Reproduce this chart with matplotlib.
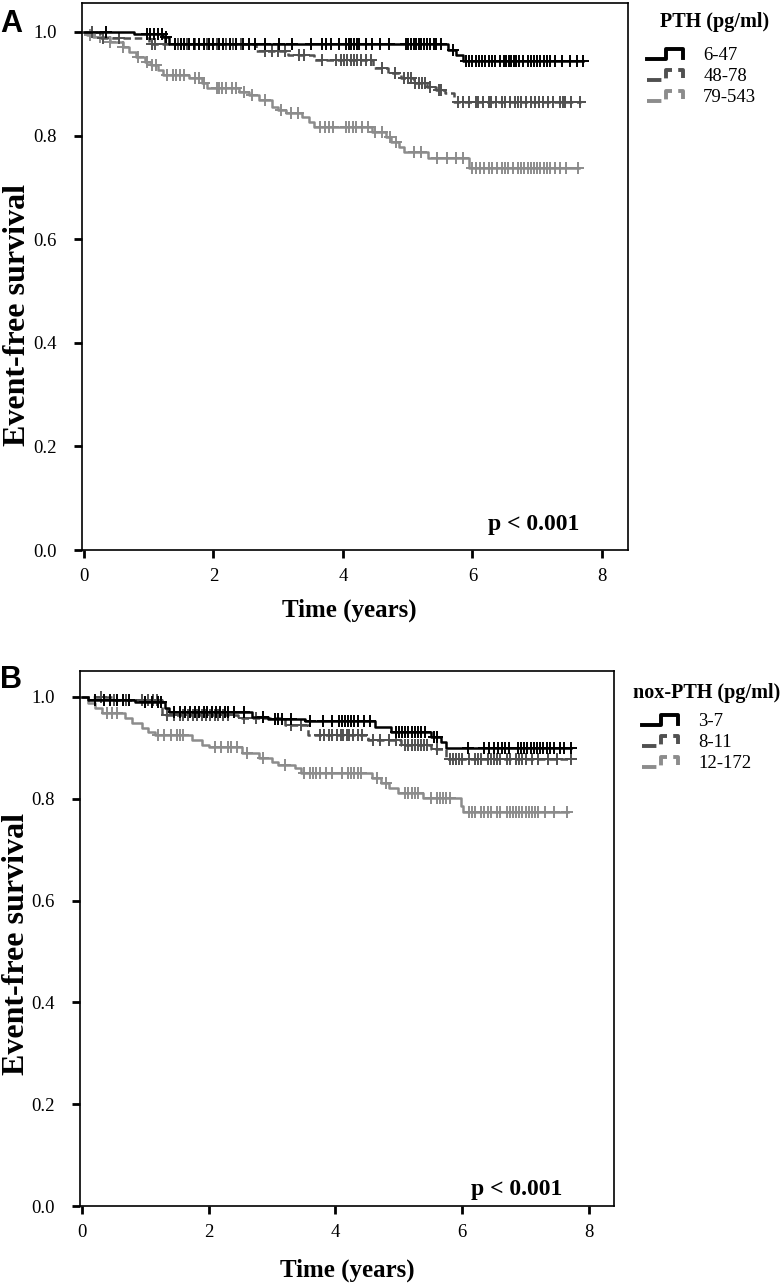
import matplotlib
matplotlib.use('Agg')
import matplotlib.pyplot as plt
import numpy as np
from matplotlib.legend_handler import HandlerBase
from matplotlib.lines import Line2D

# ---------------------------------------------------------------------------
# Data
# ---------------------------------------------------------------------------

# Panel A: PTH tertiles
pth_labels = ['6-47', '48-78', '79-543']

pth_low_t = [0, 0.78, 1.22, 1.32, 5.63, 5.75, 5.86]
pth_low_s = [1.0, 0.996, 0.99, 0.977, 0.965, 0.955, 0.944]
pth_low_end = 7.7
pth_low_cens = [0.34, 0.97, 1.02, 1.08, 1.14, 1.2, 1.27, 1.4, 1.5, 1.55, 1.62, 1.7, 1.78,
                1.85, 1.93, 2.0, 2.08, 2.15, 2.25, 2.35, 2.45, 2.55, 2.65, 2.8, 3.02, 3.22,
                3.51, 3.68, 3.74, 3.82, 3.94, 4.05, 4.09, 4.13, 4.17, 4.21, 4.25, 4.35,
                4.45, 4.58, 4.71, 4.97, 5.01, 5.05, 5.09, 5.13, 5.17, 5.21, 5.25, 5.3,
                5.35, 5.4, 5.43, 5.51, 5.7, 5.9, 5.95, 6.0, 6.05, 6.1, 6.15, 6.2, 6.25,
                6.3, 6.35, 6.42, 6.48, 6.52, 6.56, 6.6, 6.64, 6.68, 6.72, 6.78, 6.85,
                6.9, 6.95, 7.0, 7.05, 7.1, 7.15, 7.2, 7.28, 7.38, 7.5, 7.62, 7.7]

pth_mid_t = [0, 0.25, 1.0, 2.66, 3.15, 3.55, 4.47, 4.7, 4.9, 5.09, 5.3, 5.43, 5.58, 5.71]
pth_mid_s = [1.0, 0.988, 0.977, 0.963, 0.955, 0.945, 0.93, 0.92, 0.911, 0.901, 0.894,
             0.888, 0.882, 0.865]
pth_mid_end = 7.68
pth_mid_cens = [0.12, 0.3, 0.55, 1.05, 1.1, 1.25, 1.45, 1.6, 1.72, 1.9, 2.05, 2.2, 2.3,
                2.42, 2.55, 2.8, 2.9, 3.0, 3.1, 3.32, 3.4, 3.68, 3.89, 3.97, 4.02, 4.07,
                4.12, 4.17, 4.22, 4.28, 4.35, 4.43, 4.6, 4.8, 4.95, 5.0, 5.05, 5.12,
                5.17, 5.22, 5.27, 5.35, 5.48, 5.52, 5.78, 5.86, 5.94, 6.05, 6.09, 6.17,
                6.25, 6.29, 6.37, 6.45, 6.51, 6.58, 6.66, 6.71, 6.75, 6.82, 6.91, 6.97,
                7.02, 7.09, 7.17, 7.25, 7.35, 7.4, 7.43, 7.52, 7.66]

pth_high_t = [0, 0.05, 0.14, 0.4, 0.6, 0.7, 0.81, 0.94, 1.04, 1.14, 1.22, 1.63, 1.83,
              1.9, 2.4, 2.55, 2.7, 2.9, 3.0, 3.12, 3.37, 3.48, 3.55, 4.45, 4.66, 4.75,
              4.86, 4.94, 5.32, 5.94]
pth_high_s = [1.0, 0.995, 0.99, 0.981, 0.971, 0.961, 0.952, 0.942, 0.936, 0.927, 0.917,
              0.911, 0.902, 0.892, 0.884, 0.878, 0.869, 0.855, 0.849, 0.843, 0.836,
              0.826, 0.817, 0.807, 0.797, 0.788, 0.778, 0.768, 0.757, 0.737]
pth_high_end = 7.65
pth_high_cens = [0.1, 0.25, 0.4, 0.6, 0.83, 0.97, 1.05, 1.12, 1.29, 1.37, 1.43, 1.48,
                 1.55, 1.71, 1.78, 1.86, 2.05, 2.09, 2.14, 2.2, 2.28, 2.35, 2.48, 2.6,
                 2.8, 3.05, 3.2, 3.3, 3.65, 3.72, 3.78, 3.85, 4.05, 4.1, 4.15, 4.2, 4.3,
                 4.38, 4.5, 4.6, 4.72, 4.82, 5.1, 5.2, 5.45, 5.6, 5.75, 5.85, 6.0, 6.05,
                 6.12, 6.18, 6.25, 6.3, 6.38, 6.45, 6.5, 6.55, 6.62, 6.7, 6.75, 6.8,
                 6.85, 6.9, 6.95, 7.0, 7.05, 7.1, 7.15, 7.2, 7.27, 7.35, 7.45, 7.63]

# Panel B: nox-PTH tertiles
nox_labels = ['3-7', '8-11', '12-172']

nox_low_t = [0, 0.1, 0.83, 1.31, 1.37, 2.68, 2.94, 3.52, 4.62, 4.88, 5.5, 5.67, 5.75]
nox_low_s = [1.0, 0.995, 0.99, 0.978, 0.971, 0.961, 0.957, 0.952, 0.941, 0.932, 0.922,
             0.912, 0.9]
nox_low_end = 7.72
nox_low_cens = [0.2, 0.35, 0.45, 0.55, 0.65, 0.75, 1.0, 1.1, 1.2, 1.25, 1.45, 1.55, 1.62,
                1.7, 1.78, 1.85, 1.92, 1.98, 2.05, 2.12, 2.18, 2.25, 2.3, 2.4, 2.55, 2.85,
                3.05, 3.1, 3.15, 3.3, 3.6, 3.8, 3.95, 4.05, 4.1, 4.15, 4.2, 4.25, 4.3,
                4.35, 4.45, 4.55, 4.95, 5.0, 5.05, 5.1, 5.15, 5.2, 5.25, 5.3, 5.35, 5.42,
                5.55, 5.6, 6.09, 6.35, 6.42, 6.5, 6.57, 6.62, 6.68, 6.74, 6.88, 6.93, 6.98,
                7.03, 7.08, 7.13, 7.18, 7.23, 7.28, 7.33, 7.38, 7.45, 7.54, 7.6, 7.72]

nox_mid_t = [0, 0.5, 1.26, 2.46, 3.2, 3.57, 4.52, 5.04, 5.5, 5.75]
nox_mid_s = [1.0, 0.995, 0.965, 0.959, 0.945, 0.926, 0.916, 0.906, 0.897, 0.878]
nox_mid_end = 7.72
nox_mid_cens = [0.3, 0.5, 0.7, 0.95, 1.05, 1.12, 1.18, 1.35, 1.45, 1.55, 1.6, 1.68, 1.75,
                1.82, 1.9, 1.95, 2.02, 2.1, 2.15, 2.22, 2.3, 2.55, 2.75, 3.3, 3.45, 3.75,
                3.82, 3.9, 3.95, 4.02, 4.08, 4.12, 4.18, 4.22, 4.28, 4.35, 4.42, 4.6,
                4.7, 4.85, 4.95, 5.1, 5.15, 5.2, 5.25, 5.3, 5.35, 5.4, 5.45, 5.6, 5.8,
                5.85, 5.9, 5.95, 6.0, 6.1, 6.2, 6.25, 6.3, 6.4, 6.45, 6.5, 6.55, 6.6,
                6.7, 6.75, 6.85, 6.9, 6.95, 7.0, 7.1, 7.2, 7.35, 7.5, 7.72]

nox_high_t = [0, 0.1, 0.21, 0.31, 0.68, 0.79, 0.94, 1.05, 1.15, 1.73, 1.89, 2.0, 2.52,
              2.79, 3.0, 3.1, 3.36, 3.46, 4.57, 4.72, 4.85, 4.99, 5.38, 5.98, 6.02]
nox_high_s = [1.0, 0.988, 0.978, 0.968, 0.959, 0.949, 0.939, 0.932, 0.925, 0.916, 0.906,
              0.902, 0.89, 0.88, 0.873, 0.867, 0.861, 0.851, 0.841, 0.831, 0.821, 0.811,
              0.801, 0.785, 0.775]
nox_high_end = 7.67
nox_high_cens = [0.4, 0.48, 0.55, 1.2, 1.3, 1.4, 1.5, 1.55, 1.6, 2.1, 2.2, 2.3, 2.35,
                 2.45, 2.6, 2.85, 3.2, 3.5, 3.6, 3.65, 3.7, 3.75, 3.85, 3.95, 4.1, 4.2,
                 4.25, 4.3, 4.35, 4.4, 4.65, 4.8, 5.1, 5.15, 5.2, 5.25, 5.3, 5.5, 5.6,
                 5.65, 5.7, 5.75, 5.8, 6.1, 6.15, 6.2, 6.3, 6.35, 6.4, 6.45, 6.55, 6.6,
                 6.7, 6.75, 6.8, 6.85, 6.9, 6.95, 7.0, 7.05, 7.1, 7.15, 7.2, 7.3, 7.45,
                 7.65]

# ---------------------------------------------------------------------------
# Style
# ---------------------------------------------------------------------------

SERIF = 'Liberation Serif'
COLORS = ['#000000', '#505050', '#8c8c8c']
STYLES = ['-', (0, (3, 1.5)), '-']
LEGEND_STYLES = ['-', (0, (1.5, 1.5)), (0, (4, 2))]

plt.rcParams['font.family'] = SERIF


class StepHandler(HandlerBase):
    """Draws the little step-shaped legend key used by SPSS survival plots."""

    def create_artists(self, legend, orig_handle, xdescent, ydescent, width, height,
                       fontsize, trans):
        xs = np.array([0, 0.5, 0.5, 0.95, 0.95]) * width - xdescent
        ys = np.array([0.1, 0.1, 0.85, 0.85, 0.2]) * height - ydescent
        line = Line2D(xs, ys, color=orig_handle.get_color(), lw=2.8,
                      linestyle=orig_handle.get_linestyle(), transform=trans)
        return [line]


def km_panel(ax, curves):
    for i, (t, s, t_end, cens) in enumerate(curves):
        t_full = np.append(t, t_end)
        s_full = np.append(s, s[-1])
        ax.step(t_full, s_full, where='post', color=COLORS[i], lw=1.8,
                linestyle=STYLES[i], zorder=3 - i * 0.1)
        idx = np.searchsorted(t, cens, side='right') - 1
        ax.plot(cens, np.asarray(s)[idx], linestyle='none', marker='+',
                markersize=8, mew=1.4, color=COLORS[i], zorder=3 - i * 0.1)

    ax.set_xlim(-0.03, 8.4)
    ax.set_xticks([0, 2, 4, 6, 8])
    ax.set_yticks([0.0, 0.2, 0.4, 0.6, 0.8, 1.0])
    ax.set_yticklabels(['0.0', '0.2', '0.4', '0.6', '0.8', '1.0'])
    ax.tick_params(direction='out', length=6, width=2, labelsize=13.5)
    ax.tick_params(axis='y', pad=12)
    ax.tick_params(axis='x', pad=7)
    for spine in ax.spines.values():
        spine.set_linewidth(1.2)
    ax.set_ylabel('Event-free survival', fontsize=23, fontweight='bold')
    ax.set_xlabel('Time (years)', fontsize=18, fontweight='bold')


fig = plt.figure(figsize=(7.8, 12.86), dpi=100)

# Panel A
ax1 = fig.add_axes([0.105, 0.5723, 0.700, 0.4254])
km_panel(ax1, [
    (pth_low_t, pth_low_s, pth_low_end, pth_low_cens),
    (pth_mid_t, pth_mid_s, pth_mid_end, pth_mid_cens),
    (pth_high_t, pth_high_s, pth_high_end, pth_high_cens),
])
ax1.set_ylim(0, 1.056)
ax1.yaxis.set_label_coords(-0.091, 0.43)
ax1.xaxis.set_label_coords(0.49, -0.088)
ax1.text(0.912, 0.046, 'p < 0.001', transform=ax1.transAxes, ha='right', va='center',
         fontsize=17, fontweight='bold')

# Panel B
ax2 = fig.add_axes([0.1026, 0.0622, 0.685, 0.416])
km_panel(ax2, [
    (nox_low_t, nox_low_s, nox_low_end, nox_low_cens),
    (nox_mid_t, nox_mid_s, nox_mid_end, nox_mid_cens),
    (nox_high_t, nox_high_s, nox_high_end, nox_high_cens),
])
ax2.set_ylim(0, 1.051)
ax2.yaxis.set_label_coords(-0.091, 0.49)
ax2.xaxis.set_label_coords(0.5, -0.098)
ax2.text(0.902, 0.03, 'p < 0.001', transform=ax2.transAxes, ha='right', va='center',
         fontsize=17, fontweight='bold')

# Panel letters
fig.text(0.0, 1 - 24 / 1286, 'A', fontsize=22, fontweight='bold',
         family='Liberation Sans', va='center', ha='left')
fig.text(0.0, 1 - 680 / 1286, 'B', fontsize=22, fontweight='bold',
         family='Liberation Sans', va='center', ha='left')

# Legends (title drawn separately so its gap to the entries can be set)
for labels, anchor, title, title_xy in [
        (pth_labels, (647 / 780, 1 - 47 / 1286), 'PTH (pg/ml)', (660, 22)),
        (nox_labels, (642 / 780, 1 - 713 / 1286), 'nox-PTH (pg/ml)', (633, 693))]:
    handles = [Line2D([], [], color=COLORS[i], linestyle=LEGEND_STYLES[i])
               for i in range(3)]
    fig.legend(handles, labels, loc='upper left', bbox_to_anchor=anchor,
               frameon=False, fontsize=13.5, borderpad=0, borderaxespad=0,
               handlelength=2.0, handletextpad=1.0, labelspacing=0.2,
               handler_map={Line2D: StepHandler()})
    fig.text(title_xy[0] / 780, 1 - title_xy[1] / 1286, title, fontsize=14.5,
             fontweight='bold', ha='left', va='center')

fig.savefig('out.png', dpi=100)
